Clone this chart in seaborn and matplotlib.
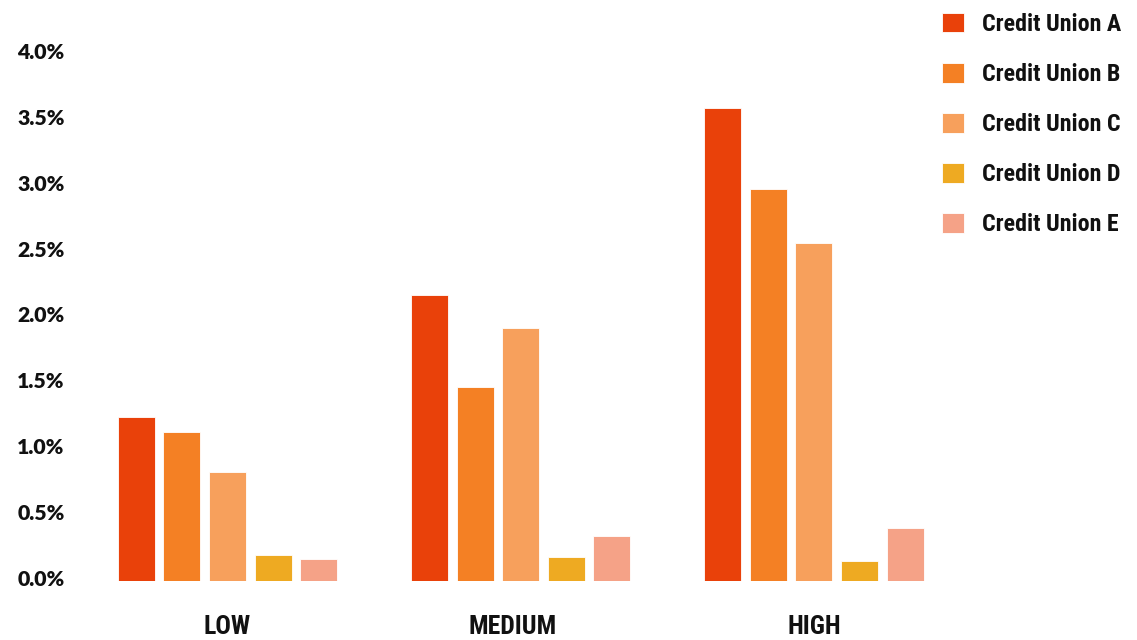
import matplotlib
matplotlib.use("Agg")
import matplotlib.pyplot as plt
import matplotlib.transforms as mtransforms
from matplotlib import font_manager
from matplotlib.patches import Patch
import seaborn as sns
import pandas as pd

# Delinquency rate (%) by risk tier for five credit unions
tiers = ["LOW", "MEDIUM", "HIGH"]
unions = ["Credit Union A", "Credit Union B", "Credit Union C", "Credit Union D", "Credit Union E"]
cu_a = [1.24, 2.17, 3.59]
cu_b = [1.13, 1.47, 2.97]
cu_c = [0.82, 1.92, 2.56]
cu_d = [0.19, 0.18, 0.15]
cu_e = [0.16, 0.34, 0.40]
y_ticks = [0.0, 0.5, 1.0, 1.5, 2.0, 2.5, 3.0, 3.5, 4.0]
colors = ["#E9410A", "#F48024", "#F7A05C", "#EEAA22", "#F5A287"]

series = [cu_a, cu_b, cu_c, cu_d, cu_e]
df = pd.DataFrame(
    [(t, u, v) for u, vals in zip(unions, series) for t, v in zip(tiers, vals)],
    columns=["tier", "union", "rate"],
)

available = {f.name for f in font_manager.fontManager.ttflist}


def pick(*names):
    for n in names:
        if n in available:
            return n
    return "DejaVu Sans"


narrow = pick("Liberation Sans Narrow", "Roboto Condensed", "Open Sans Condensed", "Liberation Sans")
wide = pick("Lato", "Open Sans", "DejaVu Sans")

sns.set_theme(style="white")
plt.rcParams["font.family"] = [wide, "DejaVu Sans"]

W, H = 1137, 640
fig = plt.figure(figsize=(W / 100, H / 100), dpi=100)
left_px, right_px = 80, 930
bottom_px, top_px = 580.5, 53.5
ax = fig.add_axes([left_px / W, 1 - bottom_px / H, (right_px - left_px) / W, (bottom_px - top_px) / H])

sns.barplot(
    data=df, x="tier", y="rate", hue="union", order=tiers, hue_order=unions,
    palette=colors, width=0.778, gap=0.19, saturation=1, ax=ax,
    edgecolor="white", linewidth=0.6, legend=True,
)

ax.set_xlim(-0.503, 2.396)
ax.set_ylim(0, 4.0)
ax.set_yticks(y_ticks)
ax.set_yticklabels([f"{v:.1f}%" for v in y_ticks])
ax.set_xlabel("")
ax.set_ylabel("")
for s in ax.spines.values():
    s.set_visible(False)
ax.grid(False)
ax.tick_params(axis="y", length=0, pad=11)
ax.tick_params(axis="x", length=0, pad=25)
lift = mtransforms.ScaledTranslation(0, 2.5 / 100, fig.dpi_scale_trans)
for lab in ax.get_yticklabels():
    lab.set_fontfamily([wide, "DejaVu Sans"])
    lab.set_fontweight("heavy")
    lab.set_fontsize(15.3)
    lab.set_color("#111111")
    lab.set_transform(lab.get_transform() + lift)
for lab in ax.get_xticklabels():
    lab.set_fontfamily([narrow, "DejaVu Sans"])
    lab.set_fontweight("bold")
    lab.set_fontsize(18.5)
    lab.set_color("#111111")
    if lab.get_text() == "MEDIUM":
        # the middle tier label sits slightly left of its bar group
        nudge = mtransforms.ScaledTranslation(-8.5 / 100, 0, fig.dpi_scale_trans)
        lab.set_transform(lab.get_transform() + nudge)

if ax.get_legend() is not None:
    ax.get_legend().remove()
handles = [Patch(facecolor=c, edgecolor="white", linewidth=0.6) for c in colors]
fig.legend(
    handles, unions, loc="upper left",
    bbox_to_anchor=(942 / W, 1 - 12.5 / H), bbox_transform=fig.transFigure,
    frameon=False, borderpad=0, borderaxespad=0,
    handlelength=0.9, handleheight=0.9, handletextpad=0.75, labelspacing=1.12,
    prop={"family": [narrow, "DejaVu Sans"], "weight": "bold", "size": 17.3},
    labelcolor="#111111",
)

fig.savefig("out.png", dpi=100, facecolor="white")
